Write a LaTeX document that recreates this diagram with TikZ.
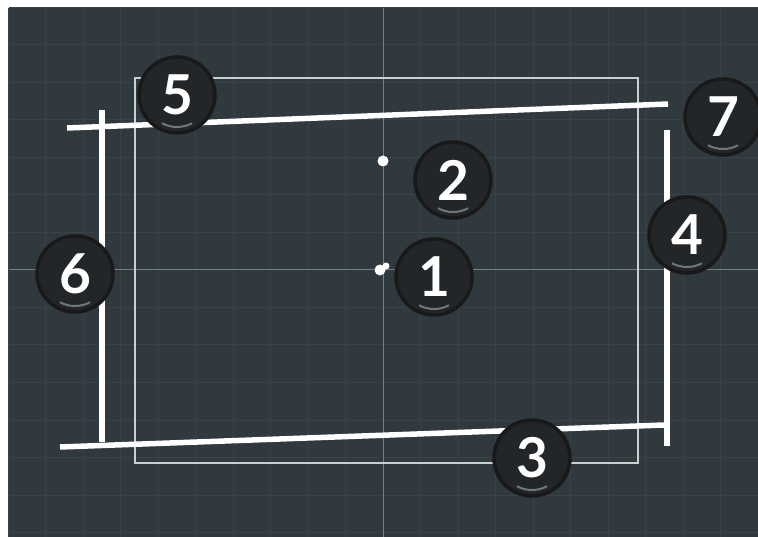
\documentclass[tikz,border=0pt]{standalone}
\usepackage{fontspec}
\setmainfont{Lato}
\definecolor{board}{RGB}{47,57,62}
\definecolor{gridline}{RGB}{56,67,72}
\definecolor{axisline}{RGB}{112,128,132}
\definecolor{frameline}{RGB}{200,208,208}
\definecolor{badgefill}{RGB}{34,38,41}
\definecolor{badgeshine}{RGB}{110,120,122}

\begin{document}
\begin{tikzpicture}[x=1pt, y=-1pt,
    badge/.style={circle, fill=badgefill, draw=black!90, line width=3.5pt,
      minimum size=76pt, inner sep=0pt, text=white,
      font=\fontsize{55}{55}\selectfont\bfseries},
    cutline/.style={white, line width=5.5pt},
    handle/.style={white, fill=white}]
  \def\cx{383} \def\cy{270} \def\gap{37.5}
  \useasboundingbox (0,0) rectangle (758,537);
  \fill[white] (0,0) rectangle (758,537);
  \fill[board] (9,8) rectangle (758,537);
  % grid
  \foreach \k in {-10,...,10} {
    \draw[gridline, line width=1pt] (\cx+\k*\gap, 8) -- (\cx+\k*\gap, 537);
  }
  \foreach \k in {-7,...,7} {
    \draw[gridline, line width=1pt] (9, \cy+\k*\gap) -- (758, \cy+\k*\gap);
  }
  \draw[axisline, line width=1pt] (\cx, 8) -- (\cx, 537);
  \draw[axisline, line width=1pt] (9, \cy) -- (758, \cy);
  % frame and skewed edges
  \draw[frameline, line width=1.3pt] (135,78) rectangle (638,463);
  \draw[cutline] (67,128) -- (668,104);
  \draw[cutline] (60,447) -- (664,425);
  \draw[cutline] (102,110) -- (102,442);
  \draw[cutline] (667,130) -- (667,446);
  \fill[handle] (\cx,161) circle (5.5);
  \fill[handle] (380,270) circle (5.5);
  \fill[handle] (386,266) circle (3.5);
  % numbered badges
  \foreach \n/\px/\py in {1/434/277, 2/453/180, 3/532/458, 4/687/235,
                          5/177/95, 6/75/274, 7/723/117} {
    \node[badge] (b\n) at (\px,\py) {\n};
    \draw[badgeshine, line width=2pt] ([shift={(118:32)}]b\n.center)
      arc[start angle=118, end angle=62, radius=32];
  }
\end{tikzpicture}
\end{document}
